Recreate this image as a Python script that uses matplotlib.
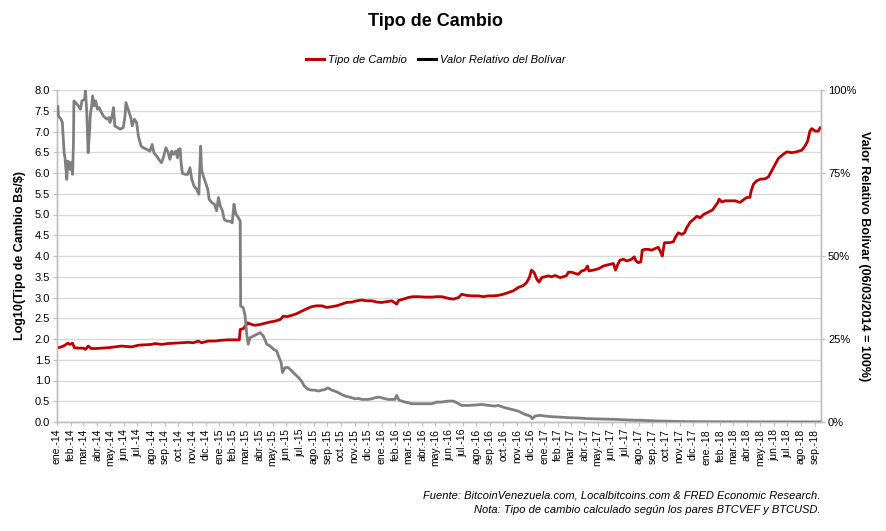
import matplotlib
matplotlib.use("Agg")
import matplotlib.pyplot as plt
import matplotlib.transforms as mtransforms
from matplotlib.lines import Line2D
import pandas as pd

plt.rcParams['font.family'] = ['Liberation Sans', 'DejaVu Sans']

# ---------------- data ----------------
fechas_cambio = [
    "2014-01-03", "2014-01-11", "2014-01-19", "2014-01-25", "2014-01-30", "2014-02-05", "2014-02-09",
    "2014-02-18", "2014-03-01", "2014-03-06", "2014-03-12", "2014-03-19", "2014-03-27", "2014-04-11",
    "2014-04-26", "2014-05-11", "2014-05-26", "2014-06-07", "2014-06-18", "2014-07-03", "2014-07-18",
    "2014-08-02", "2014-08-09", "2014-08-24", "2014-09-08", "2014-09-23", "2014-10-08", "2014-10-23",
    "2014-11-04", "2014-11-15", "2014-11-22", "2014-12-07", "2014-12-22", "2015-01-06", "2015-01-21",
    "2015-02-05", "2015-02-15", "2015-02-17", "2015-02-24", "2015-02-28", "2015-03-06", "2015-03-07",
    "2015-03-15", "2015-03-22", "2015-04-03", "2015-04-14", "2015-04-25", "2015-05-06", "2015-05-18",
    "2015-05-25", "2015-06-02", "2015-06-13", "2015-06-24", "2015-07-05", "2015-07-17", "2015-07-28",
    "2015-08-08", "2015-08-19", "2015-08-31", "2015-09-11", "2015-09-22", "2015-10-03", "2015-10-14",
    "2015-10-26", "2015-11-06", "2015-11-17", "2015-11-28", "2015-12-10", "2015-12-21", "2016-01-01",
    "2016-01-12", "2016-01-24", "2016-02-04", "2016-02-08", "2016-02-19", "2016-03-01", "2016-03-12",
    "2016-03-24", "2016-04-08", "2016-04-23", "2016-05-04", "2016-05-15", "2016-05-30", "2016-06-10",
    "2016-06-22", "2016-06-29", "2016-07-10", "2016-07-22", "2016-08-05", "2016-08-17", "2016-08-28",
    "2016-09-08", "2016-09-19", "2016-10-01", "2016-10-12", "2016-10-23", "2016-11-03", "2016-11-15",
    "2016-11-22", "2016-11-28", "2016-12-03", "2016-12-09", "2016-12-15", "2016-12-20", "2016-12-26",
    "2017-01-02", "2017-01-10", "2017-01-17", "2017-01-25", "2017-02-05", "2017-02-13", "2017-02-20",
    "2017-02-24", "2017-03-03", "2017-03-11", "2017-03-18", "2017-03-26", "2017-04-02", "2017-04-08",
    "2017-04-11", "2017-04-21", "2017-05-02", "2017-05-14", "2017-05-25", "2017-06-05", "2017-06-10",
    "2017-06-15", "2017-06-20", "2017-06-28", "2017-07-05", "2017-07-16", "2017-07-22", "2017-07-26",
    "2017-07-31", "2017-08-06", "2017-08-09", "2017-08-15", "2017-08-23", "2017-08-30", "2017-09-07",
    "2017-09-14", "2017-09-20", "2017-09-23", "2017-09-28", "2017-10-07", "2017-10-18", "2017-10-22",
    "2017-10-29", "2017-11-06", "2017-11-12", "2017-11-17", "2017-11-25", "2017-12-02", "2017-12-10",
    "2017-12-17", "2017-12-25", "2018-01-05", "2018-01-14", "2018-01-20", "2018-01-26", "2018-01-29",
    "2018-02-04", "2018-02-11", "2018-02-22", "2018-03-06", "2018-03-17", "2018-03-24", "2018-04-01",
    "2018-04-08", "2018-04-11", "2018-04-16", "2018-04-23", "2018-05-01", "2018-05-12", "2018-05-20",
    "2018-05-27", "2018-06-04", "2018-06-11", "2018-06-22", "2018-06-30", "2018-07-11", "2018-07-22",
    "2018-08-03", "2018-08-10", "2018-08-16", "2018-08-21", "2018-08-25", "2018-09-02", "2018-09-09",
    "2018-09-13",
]
log_tipo_cambio = [
    1.79, 1.81, 1.85, 1.90, 1.87, 1.90, 1.79,
    1.78, 1.78, 1.75, 1.83, 1.77, 1.77, 1.78,
    1.79, 1.81, 1.83, 1.82, 1.81, 1.85, 1.86,
    1.87, 1.89, 1.87, 1.89, 1.90, 1.91, 1.92,
    1.91, 1.95, 1.91, 1.95, 1.95, 1.97, 1.98,
    1.98, 1.98, 2.23, 2.25, 2.31, 2.39, 2.38,
    2.35, 2.33, 2.35, 2.38, 2.41, 2.43, 2.47,
    2.55, 2.54, 2.57, 2.61, 2.67, 2.73, 2.78,
    2.80, 2.80, 2.76, 2.78, 2.80, 2.84, 2.88,
    2.89, 2.92, 2.94, 2.92, 2.92, 2.89, 2.88,
    2.90, 2.92, 2.84, 2.93, 2.96, 3.00, 3.02,
    3.02, 3.01, 3.01, 3.02, 3.02, 2.98, 2.96,
    3.00, 3.08, 3.05, 3.04, 3.04, 3.02, 3.04,
    3.04, 3.05, 3.08, 3.12, 3.16, 3.24, 3.29,
    3.36, 3.48, 3.66, 3.60, 3.44, 3.37, 3.48,
    3.50, 3.52, 3.50, 3.53, 3.48, 3.50, 3.53,
    3.61, 3.61, 3.58, 3.56, 3.64, 3.66, 3.76,
    3.64, 3.66, 3.69, 3.76, 3.79, 3.82, 3.66,
    3.80, 3.90, 3.92, 3.88, 3.92, 3.98, 3.88,
    3.84, 3.86, 4.14, 4.16, 4.16, 4.14, 4.18,
    4.21, 4.08, 4.00, 4.32, 4.32, 4.34, 4.44,
    4.56, 4.52, 4.56, 4.68, 4.82, 4.88, 4.96,
    4.92, 5.00, 5.06, 5.11, 5.20, 5.29, 5.37,
    5.30, 5.33, 5.33, 5.33, 5.29, 5.35, 5.41,
    5.41, 5.57, 5.73, 5.81, 5.85, 5.86, 5.91,
    6.05, 6.21, 6.35, 6.45, 6.51, 6.49, 6.51,
    6.55, 6.65, 6.77, 7.01, 7.07, 7.01, 7.01,
    7.09,
]

fechas_valor = [
    "2014-01-03", "2014-01-04", "2014-01-10", "2014-01-13", "2014-01-17", "2014-01-19", "2014-01-23",
    "2014-01-25", "2014-01-29", "2014-01-30", "2014-02-02", "2014-02-05", "2014-02-07", "2014-02-08",
    "2014-02-12", "2014-02-18", "2014-02-23", "2014-02-26", "2014-03-04", "2014-03-06", "2014-03-09",
    "2014-03-12", "2014-03-15", "2014-03-17", "2014-03-20", "2014-03-22", "2014-03-26", "2014-03-29",
    "2014-04-02", "2014-04-06", "2014-04-11", "2014-04-15", "2014-04-19", "2014-04-23", "2014-04-28",
    "2014-04-30", "2014-05-05", "2014-05-08", "2014-05-11", "2014-05-17", "2014-05-23", "2014-05-30",
    "2014-06-03", "2014-06-05", "2014-06-10", "2014-06-16", "2014-06-19", "2014-06-24", "2014-06-29",
    "2014-07-03", "2014-07-09", "2014-07-14", "2014-07-22", "2014-07-29", "2014-08-03", "2014-08-07",
    "2014-08-13", "2014-08-18", "2014-08-24", "2014-08-28", "2014-09-03", "2014-09-08", "2014-09-12",
    "2014-09-16", "2014-09-20", "2014-09-25", "2014-09-29", "2014-10-01", "2014-10-05", "2014-10-07",
    "2014-10-10", "2014-10-16", "2014-10-22", "2014-10-27", "2014-10-31", "2014-11-05", "2014-11-11",
    "2014-11-16", "2014-11-20", "2014-11-22", "2014-11-26", "2014-12-01", "2014-12-06", "2014-12-09",
    "2014-12-15", "2014-12-21", "2014-12-26", "2014-12-30", "2015-01-03", "2015-01-08", "2015-01-12",
    "2015-01-18", "2015-01-25", "2015-01-30", "2015-02-03", "2015-02-07", "2015-02-11", "2015-02-17",
    "2015-02-18", "2015-02-24", "2015-02-28", "2015-03-04", "2015-03-07", "2015-03-11", "2015-03-19",
    "2015-03-26", "2015-04-03", "2015-04-10", "2015-04-18", "2015-04-25", "2015-05-03", "2015-05-10",
    "2015-05-14", "2015-05-20", "2015-05-23", "2015-05-29", "2015-06-05", "2015-06-13", "2015-06-20",
    "2015-06-28", "2015-07-05", "2015-07-11", "2015-07-20", "2015-07-28", "2015-08-04", "2015-08-12",
    "2015-08-19", "2015-08-27", "2015-09-02", "2015-09-11", "2015-09-18", "2015-09-26", "2015-10-03",
    "2015-10-11", "2015-10-18", "2015-10-26", "2015-11-02", "2015-11-10", "2015-11-17", "2015-11-25",
    "2015-12-02", "2015-12-10", "2015-12-17", "2015-12-25", "2016-01-01", "2016-01-09", "2016-01-16",
    "2016-01-24", "2016-01-31", "2016-02-04", "2016-02-09", "2016-02-15", "2016-02-23", "2016-03-01",
    "2016-03-09", "2016-03-24", "2016-04-08", "2016-04-23", "2016-05-04", "2016-05-15", "2016-05-30",
    "2016-06-10", "2016-06-18", "2016-06-29", "2016-07-14", "2016-07-29", "2016-08-13", "2016-08-28",
    "2016-09-12", "2016-09-19", "2016-10-04", "2016-10-19", "2016-11-03", "2016-11-18", "2016-11-30",
    "2016-12-05", "2016-12-11", "2016-12-22", "2017-01-02", "2017-01-17", "2017-02-01", "2017-02-24",
    "2017-03-18", "2017-04-10", "2017-05-10", "2017-06-09", "2017-07-09", "2017-08-08", "2017-09-14",
    "2017-10-22", "2017-11-21", "2018-02-09", "2018-05-20", "2018-09-13",
]
valor_relativo = [
    95.0, 92.2, 91.2, 90.2, 81.1, 79.6, 73.1,
    78.6, 78.1, 76.1, 78.1, 74.6, 84.1, 96.7,
    96.2, 95.2, 94.2, 96.7, 97.2, 100.0, 93.2,
    81.1, 87.1, 92.7, 95.2, 98.2, 95.2, 96.7,
    94.2, 94.7, 93.2, 92.2, 91.7, 91.2, 91.7,
    90.2, 92.2, 94.7, 89.2, 88.7, 88.2, 88.7,
    92.2, 96.2, 94.2, 91.7, 89.2, 91.2, 90.2,
    86.1, 83.1, 82.6, 82.1, 81.6, 83.6, 81.1,
    80.1, 79.1, 78.1, 79.6, 82.6, 81.1, 79.1,
    81.6, 80.6, 81.6, 79.6, 82.1, 82.3, 78.1,
    74.9, 74.6, 74.6, 76.6, 73.1, 71.1, 70.1,
    68.6, 83.1, 76.1, 74.1, 72.1, 70.1, 67.1,
    66.1, 65.6, 63.6, 67.6, 65.1, 63.6, 61.0,
    60.5, 60.5, 60.0, 65.6, 62.6, 62.0, 60.5,
    34.9, 34.4, 31.9, 26.0, 23.4, 25.4, 25.9,
    26.4, 26.9, 25.9, 23.4, 22.9, 21.9, 21.4,
    19.9, 17.9, 14.9, 16.4, 16.4, 15.4, 14.4,
    13.4, 12.3, 10.8, 9.8, 9.6, 9.6, 9.3,
    9.6, 9.8, 10.3, 9.6, 9.3, 8.8, 8.3,
    7.8, 7.6, 7.3, 7.0, 7.1, 6.8, 6.8,
    6.8, 7.0, 7.3, 7.5, 7.3, 7.0, 6.8,
    6.8, 6.8, 8.0, 6.6, 6.3, 6.0, 5.8,
    5.5, 5.5, 5.5, 5.5, 6.0, 6.0, 6.3,
    6.3, 5.8, 5.0, 5.0, 5.1, 5.3, 5.0,
    4.8, 5.0, 4.3, 3.8, 3.3, 2.3, 1.8,
    1.0, 1.8, 2.0, 1.8, 1.6, 1.5, 1.3,
    1.2, 1.0, 0.9, 0.8, 0.6, 0.5, 0.3,
    0.2, 0.1, 0.05, 0.03, 0.02,
]

meses = ["ene", "feb", "mar", "abr", "may", "jun", "jul", "ago", "sep", "oct", "nov", "dic"]
ticks_izq = [0.0, 0.5, 1.0, 1.5, 2.0, 2.5, 3.0, 3.5, 4.0, 4.5, 5.0, 5.5, 6.0, 6.5, 7.0, 7.5, 8.0]
ticks_der = [0, 25, 50, 75, 100]

titulo = "Tipo de Cambio"
serie1 = "Tipo de Cambio"
serie2 = "Valor Relativo del Bolívar"
eje_izq = "Log10(Tipo de Cambio Bs/$)"
eje_der = "Valor Relativo Bolívar (06/03/2014 = 100%)"
nota1 = "Fuente: BitcoinVenezuela.com, Localbitcoins.com & FRED Economic Research."
nota2 = "Nota: Tipo de cambio calculado según los pares BTCVEF y BTCUSD."

# ---------------- figure ----------------
RED = "#C00000"
GREY = "#7F7F7F"
GRID = "#D9D9D9"
AXC = "#BFBFBF"

fig = plt.figure(figsize=(8.86, 5.31), dpi=100)
ax = fig.add_axes([57/886, 1-422/531, (821-57)/886, (422-90)/531])
ax2 = ax.twinx()

d1 = pd.to_datetime(fechas_cambio)
d2 = pd.to_datetime(fechas_valor)

ax.plot(d1, log_tipo_cambio, color=RED, lw=2.0, solid_joinstyle='round', zorder=3)
ax2.plot(d2, valor_relativo, color=GREY, lw=2.0, solid_joinstyle='round', zorder=3)

ax.set_ylim(0, 8)
ax2.set_ylim(0, 100)
ax.set_yticks(ticks_izq)
ax.set_yticklabels([f"{v:.1f}" for v in ticks_izq])
ax2.set_yticks(ticks_der)
ax2.set_yticklabels([f"{v}%" for v in ticks_der])

xmin = pd.Timestamp("2014-01-01")
xmax = pd.Timestamp("2018-09-15")
ax.set_xlim(xmin, xmax)
month_ticks = pd.date_range("2014-01-01", "2018-09-01", freq="MS")
ax.set_xticks(month_ticks)
ax.set_xticklabels([f"{meses[t.month-1]}.-{t.year % 100:02d}" for t in month_ticks], rotation=90)
off = mtransforms.ScaledTranslation(0.05, 0, fig.dpi_scale_trans)
for lab in ax.get_xticklabels():
    lab.set_transform(lab.get_transform() + off)

ax.grid(axis='y', color=GRID, lw=1.0)
ax.set_axisbelow(True)

for a in (ax, ax2):
    a.spines['top'].set_visible(False)
    for s in ('left', 'right', 'bottom'):
        a.spines[s].set_color(AXC)
        a.spines[s].set_linewidth(1.0)

ax.tick_params(axis='x', labelsize=7.5, colors="#000000", length=3, width=0.8, color=AXC, pad=2)
ax.tick_params(axis='y', labelsize=8, length=3, width=0.8, color=AXC, pad=2)
ax2.tick_params(axis='y', labelsize=8, length=3, width=0.8, color=AXC, pad=2)

ax.set_ylabel(eje_izq, fontsize=9, fontweight='bold', labelpad=6)
ax2.set_ylabel(eje_der, fontsize=9, fontweight='bold', rotation=270, labelpad=10)

fig.text(0.492, 1-22/531, titulo, ha='center', va='center', fontsize=13, fontweight='bold')

handles = [Line2D([0], [0], color=RED, lw=2.2), Line2D([0], [0], color="#000000", lw=2.2)]
fig.legend(handles, [serie1, serie2], loc='center', bbox_to_anchor=(0.492, 1-60/531), ncol=2,
           frameon=False, prop={'size': 8, 'style': 'italic'}, handlelength=1.6,
           handletextpad=0.4, columnspacing=1.0)

fig.text(820/886, 1-495/531, nota1, ha='right', va='center', fontsize=8, style='italic')
fig.text(820/886, 1-510/531, nota2, ha='right', va='center', fontsize=8, style='italic')

fig.savefig("out.png", dpi=100)
